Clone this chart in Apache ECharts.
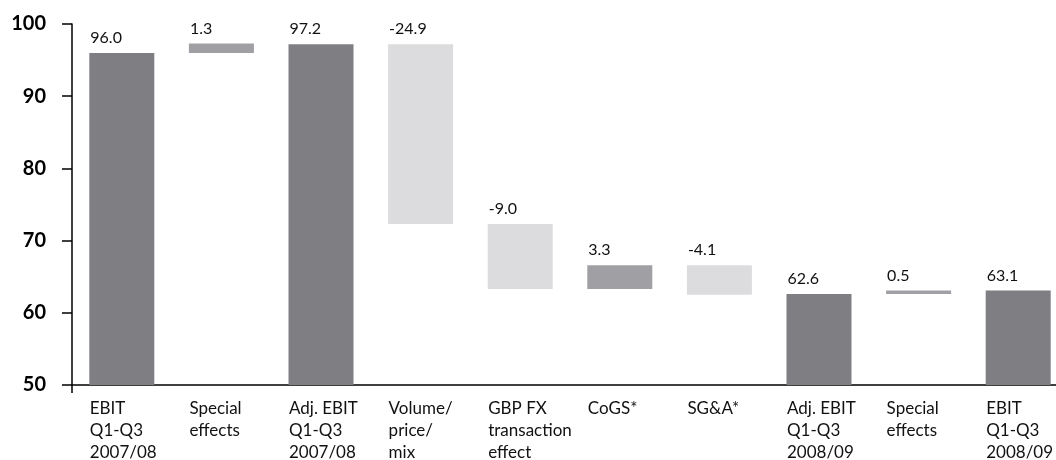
<html lang="en">
<head>
<meta charset="UTF-8">
<title>EBIT bridge</title>
<script src="https://cdn.jsdelivr.net/npm/echarts@6/dist/echarts.min.js"></script>
<style>
  body { margin: 0; background: #fff; }
  #chart { width: 1056px; height: 460px; }
</style>
</head>
<body>
<div id="chart"></div>
<script>
// categories (axis text) and the value shown above each bar
var categories = [
    'EBIT\nQ1-Q3\n2007/08', 'Special\neffects', 'Adj. EBIT\nQ1-Q3\n2007/08',
    'Volume/\nprice/\nmix', 'GBP FX\ntransaction\neffect', 'CoGS*', 'SG&A*',
    'Adj. EBIT\nQ1-Q3\n2008/09', 'Special\neffects', 'EBIT\nQ1-Q3\n2008/09'
];
var values = [96.0, 1.3, 97.2, -24.9, -9.0, 3.3, -4.1, 62.6, 0.5, 63.1];
var kinds = ['total', 'delta', 'total', 'delta', 'delta', 'delta', 'delta', 'total', 'delta', 'total'];
var yTicks = [50, 60, 70, 80, 90, 100];

var colTotal = '#7f7e83';
var colUp = '#a0a0a4';
var colDown = '#dcdcde';

// waterfall: invisible base + visible part
var baseData = [];
var barData = [];
var running = 0;
for (var i = 0; i < values.length; i++) {
    var v = values[i];
    if (kinds[i] === 'total') {
        running = v;
        baseData.push(0);
        barData.push({value: v, itemStyle: {color: colTotal}, lbl: v.toFixed(1)});
    } else {
        var from = running;
        running = running + v;
        baseData.push(Math.min(from, running));
        barData.push({value: Math.abs(v), itemStyle: {color: v >= 0 ? colUp : colDown}, lbl: v.toFixed(1)});
    }
}

var font = 'Lato, "DejaVu Sans", sans-serif';
var myChart = echarts.init(document.getElementById('chart'));
var option = {
    animation: false,
    grid: {left: 72, right: -12, top: 24, bottom: 75, outerBoundsMode: 'none', containLabel: false},
    xAxis: {
        type: 'category',
        data: categories,
        axisLine: {lineStyle: {color: '#000', width: 1.5}},
        axisTick: {show: true, length: 8, interval: function (i) { return i === 0; }, lineStyle: {color: '#000', width: 1.5}},
        axisLabel: {
            interval: 0,
            align: 'left',
            padding: [0, 0, 0, -32],
            margin: 13,
            color: '#111',
            fontFamily: font,
            fontSize: 17,
            lineHeight: 22
        }
    },
    yAxis: {
        type: 'value',
        min: yTicks[0],
        max: yTicks[yTicks.length - 1],
        interval: 10,
        axisLine: {show: true, lineStyle: {color: '#000', width: 1.5}},
        axisTick: {show: true, length: 10, lineStyle: {color: '#000', width: 1.5}},
        splitLine: {show: false},
        axisLabel: {
            margin: 26,
            color: '#000',
            fontWeight: 'bold',
            fontFamily: font,
            fontSize: 20
        }
    },
    series: [
        {
            type: 'bar',
            stack: 'wf',
            barWidth: 65,
            itemStyle: {color: 'transparent'},
            data: baseData,
            silent: true
        },
        {
            type: 'bar',
            stack: 'wf',
            barWidth: 65,
            data: barData,
            label: {
                show: true,
                position: [1, -23],
                color: '#111',
                fontFamily: font,
                fontSize: 16,
                formatter: function (p) { return p.data.lbl; }
            }
        }
    ]
};
myChart.setOption(option);
</script>
</body>
</html>
